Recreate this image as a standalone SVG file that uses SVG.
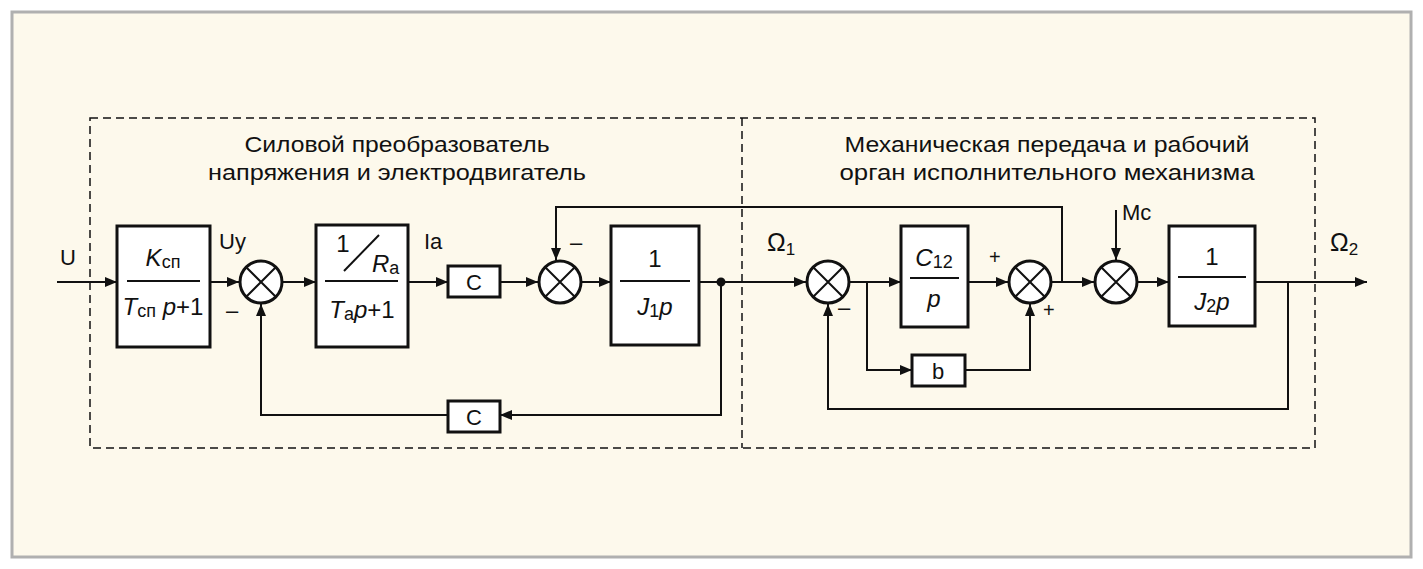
<svg xmlns="http://www.w3.org/2000/svg" width="1423" height="569" viewBox="0 0 1423 569">
<style>
text{font-family:"Liberation Sans",Arial,sans-serif;fill:#111}
.t{font-size:22px}
.i{font-style:italic}
.b{fill:#fff;stroke:#111;stroke-width:3}
.s{fill:#fff;stroke:#111;stroke-width:3}
.l{fill:none;stroke:#111;stroke-width:2}
.f{stroke:#111;stroke-width:2}
</style>
<defs><marker id="a" markerWidth="12" markerHeight="10" refX="12" refY="5" orient="auto" markerUnits="userSpaceOnUse"><path d="M0,0L12,5L0,10Z" fill="#111"/></marker></defs>
<rect x="0" y="0" width="1423" height="569" fill="#fff"/>
<rect x="12" y="12" width="1399" height="545" fill="#fdf9ec" stroke="#b0b0b0" stroke-width="3"/>
<g id="frame" fill="none" stroke="#111" stroke-width="1.5" stroke-dasharray="8,5">
<rect x="90" y="118" width="1225" height="330"/><line x1="742" y1="118" x2="742" y2="448"/></g>
<g id="titles" class="t" text-anchor="middle">
<text x="397" y="152" textLength="305" lengthAdjust="spacingAndGlyphs">Силовой преобразователь</text>
<text x="397" y="180" textLength="378" lengthAdjust="spacingAndGlyphs">напряжения и электродвигатель</text>
<text x="1047" y="152" textLength="405" lengthAdjust="spacingAndGlyphs">Механическая передача и рабочий</text>
<text x="1047" y="180" textLength="415" lengthAdjust="spacingAndGlyphs">орган исполнительного механизма</text></g>
<g id="connectors" class="l">
<line x1="57" y1="282" x2="117" y2="282" marker-end="url(#a)"/>
<line x1="210" y1="282" x2="239" y2="282" marker-end="url(#a)"/>
<line x1="283" y1="282" x2="316" y2="282" marker-end="url(#a)"/>
<line x1="408" y1="282" x2="448" y2="282" marker-end="url(#a)"/>
<line x1="500" y1="282" x2="538" y2="282" marker-end="url(#a)"/>
<line x1="582" y1="282" x2="611" y2="282" marker-end="url(#a)"/>
<line x1="699" y1="282" x2="806" y2="282" marker-end="url(#a)"/>
<polyline points="721,282 721,415 500,415" marker-end="url(#a)"/>
<polyline points="448,415 261,415 261,304" marker-end="url(#a)"/>
<polyline points="1062,282 1062,207 556,207 556,260" marker-end="url(#a)"/>
<line x1="850" y1="282" x2="901" y2="282" marker-end="url(#a)"/>
<line x1="968" y1="282" x2="1008" y2="282" marker-end="url(#a)"/>
<polyline points="867,282 867,370 912,370" marker-end="url(#a)"/>
<polyline points="965,370 1030,370 1030,304" marker-end="url(#a)"/>
<line x1="1052" y1="282" x2="1094" y2="282" marker-end="url(#a)"/>
<line x1="1116" y1="210" x2="1116" y2="260" marker-end="url(#a)"/>
<line x1="1138" y1="282" x2="1169" y2="282" marker-end="url(#a)"/>
<line x1="1255" y1="282" x2="1367" y2="282" marker-end="url(#a)"/>
<polyline points="1288,282 1288,409 828,409 828,304" marker-end="url(#a)"/>
<circle cx="721" cy="282" r="3.5" fill="#111"/>
</g>
<g id="b1"><rect class="b" x="117" y="226" width="93" height="121"/><line class="f" x1="127" y1="281" x2="200" y2="281"/>
<text x="163" y="266" font-size="24" text-anchor="middle"><tspan class="i">K</tspan><tspan font-size="18" dy="2">сп</tspan></text>
<text x="163" y="315" font-size="24" text-anchor="middle"><tspan class="i">T</tspan><tspan font-size="18" dy="2">сп</tspan><tspan class="i" dy="-2"> p</tspan>+1</text></g>
<g id="sum1"><circle class="s" cx="261" cy="282" r="21"/><path class="f" d="M246,267L276,297M276,267L246,297"/></g>
<g id="b2"><rect class="b" x="316" y="225" width="92" height="122"/><line class="f" x1="325" y1="281" x2="398" y2="281"/><line class="f" x1="344" y1="271" x2="379" y2="235"/>
<text x="343" y="252" font-size="24" text-anchor="middle">1</text>
<text x="372" y="272" font-size="24" class="i">R<tspan font-size="18" font-style="normal" dy="2">a</tspan></text>
<text x="362" y="318" font-size="24" text-anchor="middle"><tspan class="i">T</tspan><tspan font-size="18" dy="2">a</tspan><tspan class="i" dy="-2">p</tspan>+1</text></g>
<g id="c1"><rect class="b" x="448" y="266" width="52" height="31"/><text x="474" y="290" font-size="22" text-anchor="middle">C</text></g>
<g id="sum2"><circle class="s" cx="560" cy="282" r="21"/><path class="f" d="M545,267L575,297M575,267L545,297"/></g>
<g id="b3"><rect class="b" x="611" y="226" width="88" height="119"/><line class="f" x1="620" y1="281" x2="690" y2="281"/>
<text x="655" y="267" font-size="24" text-anchor="middle">1</text>
<text x="655" y="315" font-size="24" text-anchor="middle" class="i">J<tspan font-size="18" font-style="normal" dy="2">1</tspan><tspan dy="-2">p</tspan></text></g>
<g id="c2"><rect class="b" x="448" y="401" width="52" height="31"/><text x="474" y="425" font-size="22" text-anchor="middle">C</text></g>
<g id="sum3"><circle class="s" cx="828" cy="282" r="21"/><path class="f" d="M813,267L843,297M843,267L813,297"/></g>
<g id="b4"><rect class="b" x="901" y="226" width="67" height="101"/><line class="f" x1="910" y1="278" x2="959" y2="278"/>
<text x="934" y="266" font-size="24" text-anchor="middle" class="i">C<tspan font-size="18" font-style="normal" dy="2">12</tspan></text>
<text x="934" y="307" font-size="24" text-anchor="middle" class="i">p</text></g>
<g id="sum4"><circle class="s" cx="1030" cy="282" r="21"/><path class="f" d="M1015,267L1045,297M1045,267L1015,297"/></g>
<g id="bb"><rect class="b" x="912" y="355" width="53" height="31"/><text x="938" y="379" font-size="22" text-anchor="middle">b</text></g>
<g id="sum5"><circle class="s" cx="1116" cy="282" r="21"/><path class="f" d="M1101,267L1131,297M1131,267L1101,297"/></g>
<g id="b5"><rect class="b" x="1169" y="226" width="86" height="100"/><line class="f" x1="1178" y1="277" x2="1246" y2="277"/>
<text x="1212" y="265" font-size="24" text-anchor="middle">1</text>
<text x="1212" y="310" font-size="24" text-anchor="middle" class="i">J<tspan font-size="18" font-style="normal" dy="2">2</tspan><tspan dy="-2">p</tspan></text></g>
<g id="labels">
<text x="60" y="265" class="t">U</text>
<text x="219" y="249" class="t">Uy</text>
<text x="226" y="318" class="t">–</text>
<text x="424" y="249" class="t">Ia</text>
<text x="570" y="250" class="t">–</text>
<text x="767" y="251" font-size="25">Ω<tspan font-size="17" dy="4">1</tspan></text>
<text x="838" y="315" class="t">–</text>
<text x="989" y="264" font-size="20">+</text>
<text x="1043" y="317" font-size="20">+</text>
<text x="1122" y="220" class="t">Mc</text>
<text x="1330" y="251" font-size="25">Ω<tspan font-size="17" dy="4">2</tspan></text>
</g>
</svg>
